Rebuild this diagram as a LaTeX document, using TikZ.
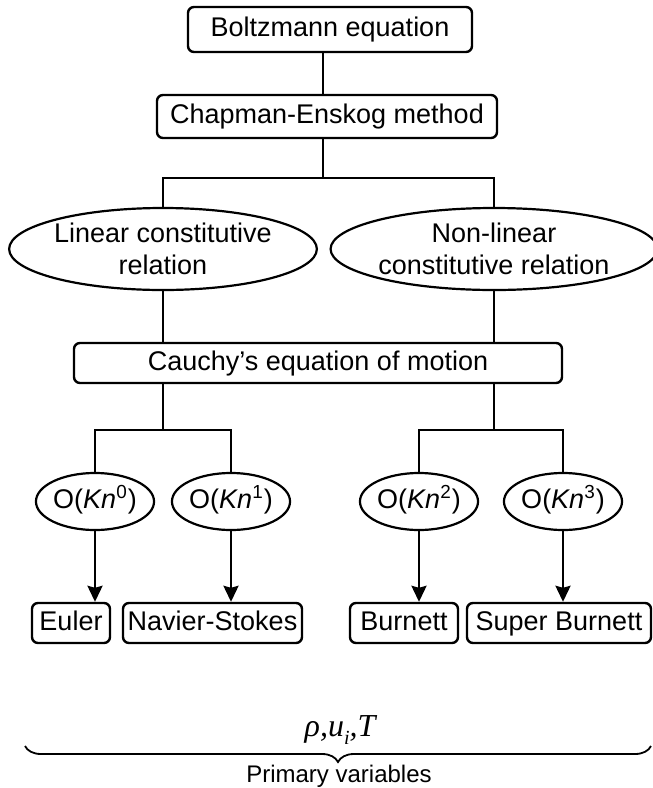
\documentclass[tikz,border=0pt]{standalone}
\usepackage{fontspec}
\setmainfont{Liberation Sans}
\newfontfamily\varfont{Liberation Serif}
\usepackage{tikz}
\usetikzlibrary{
  arrows.meta,
  positioning,
  shapes.geometric,
  decorations.pathreplacing,
}

\begin{document}
\begin{tikzpicture}[
  x=0.5pt, y=-0.5pt,
  >={Stealth[length=8pt, width=7.5pt, inset=1pt]},
  link/.style={line width=1.25pt},
  box/.style={draw, line width=1.2pt, rounded corners=3pt, inner sep=0pt,
    minimum height=20pt, text height=9.8pt, text depth=2.6pt,
    font=\fontsize{13.5}{16}\selectfont},
  oval/.style={draw, ellipse, line width=1.1pt, inner sep=0pt, align=center,
    minimum height=41pt, font=\fontsize{13.5}{16}\selectfont},
  order/.style={draw, ellipse, line width=1.1pt, inner sep=0pt,
    minimum width=55pt, minimum height=28.5pt, text height=10pt, text depth=3pt,
    font=\fontsize{13.5}{16}\selectfont},
]
  \useasboundingbox (0,0) rectangle (653,788);

  % Top of the tree
  \node[box, minimum width=142pt, minimum height=22.5pt] (boltz) at (330,29.5) {Boltzmann equation};
  \node[box, minimum width=170pt, minimum height=21.5pt] (chap) at (327,116.5) {Chapman-Enskog method};
  \coordinate (trunk) at (323,178);

  % Constitutive relations
  \node[oval, minimum width=144.5pt] (lin) at (163,249) {Linear constitutive\\relation};
  \node[oval, minimum width=155.5pt] (nonlin) at (494,249) {Non-linear\\constitutive relation};

  \node[box, minimum width=244pt] (cauchy) at (318,363) {Cauchy’s equation of motion};
  \coordinate (forkL) at (163,430);
  \coordinate (forkR) at (494,430);

  % Orders in Kn
  \node[order] (k0) at (95,501.5) {O(\textit{Kn}\textsuperscript{0})};
  \node[order] (k1) at (231,501.5) {O(\textit{Kn}\textsuperscript{1})};
  \node[order] (k2) at (419,501.5) {O(\textit{Kn}\textsuperscript{2})};
  \node[order] (k3) at (563,501.5) {O(\textit{Kn}\textsuperscript{3})};

  % Resulting equations
  \node[box, minimum width=39pt] (euler) at (71,623) {Euler};
  \node[box, minimum width=89.5pt] (navier) at (212.5,623) {Navier-Stokes};
  \node[box, minimum width=54pt] (burnett) at (404,623) {Burnett};
  \node[box, minimum width=92pt] (super) at (559,623) {Super Burnett};

  % Connectors
  \draw[link] (boltz.south -| trunk) -- (chap.north -| trunk);
  \draw[link] (chap.south -| trunk) -- (trunk);
  \draw[link] (lin.north) |- (trunk) -| (nonlin.north);
  \draw[link] (lin.south) -- (lin |- cauchy.north);
  \draw[link] (nonlin.south) -- (nonlin |- cauchy.north);
  \draw[link] (cauchy.south -| forkL) -- (forkL);
  \draw[link] (cauchy.south -| forkR) -- (forkR);
  \draw[link] (k0.north) |- (forkL) -| (k1.north);
  \draw[link] (k2.north) |- (forkR) -| (k3.north);

  \draw[link, ->] (k0.south) -- (k0 |- euler.north);
  \draw[link, ->] (k1.south) -- (k1 |- navier.north);
  \draw[link, ->] (k2.south) -- (k2 |- burnett.north);
  \draw[link, ->] (k3.south) -- (k3 |- super.north);

  % Primary variables
  \node[font=\varfont\itshape\fontsize{16}{18}\selectfont] (vars) at (340,730)
    {ρ,u\raisebox{-0.55ex}{\fontsize{10}{12}\selectfont i},T};
  \coordinate (braceL) at (25,746);
  \coordinate (braceR) at (651,746);
  \draw[line width=0.9pt, decorate, decoration={brace, mirror, amplitude=8pt}]
    (braceL) -- (braceR);
  \node[font=\fontsize{12}{14}\selectfont] (prim) at (339,776) {Primary variables};
\end{tikzpicture}
\end{document}
